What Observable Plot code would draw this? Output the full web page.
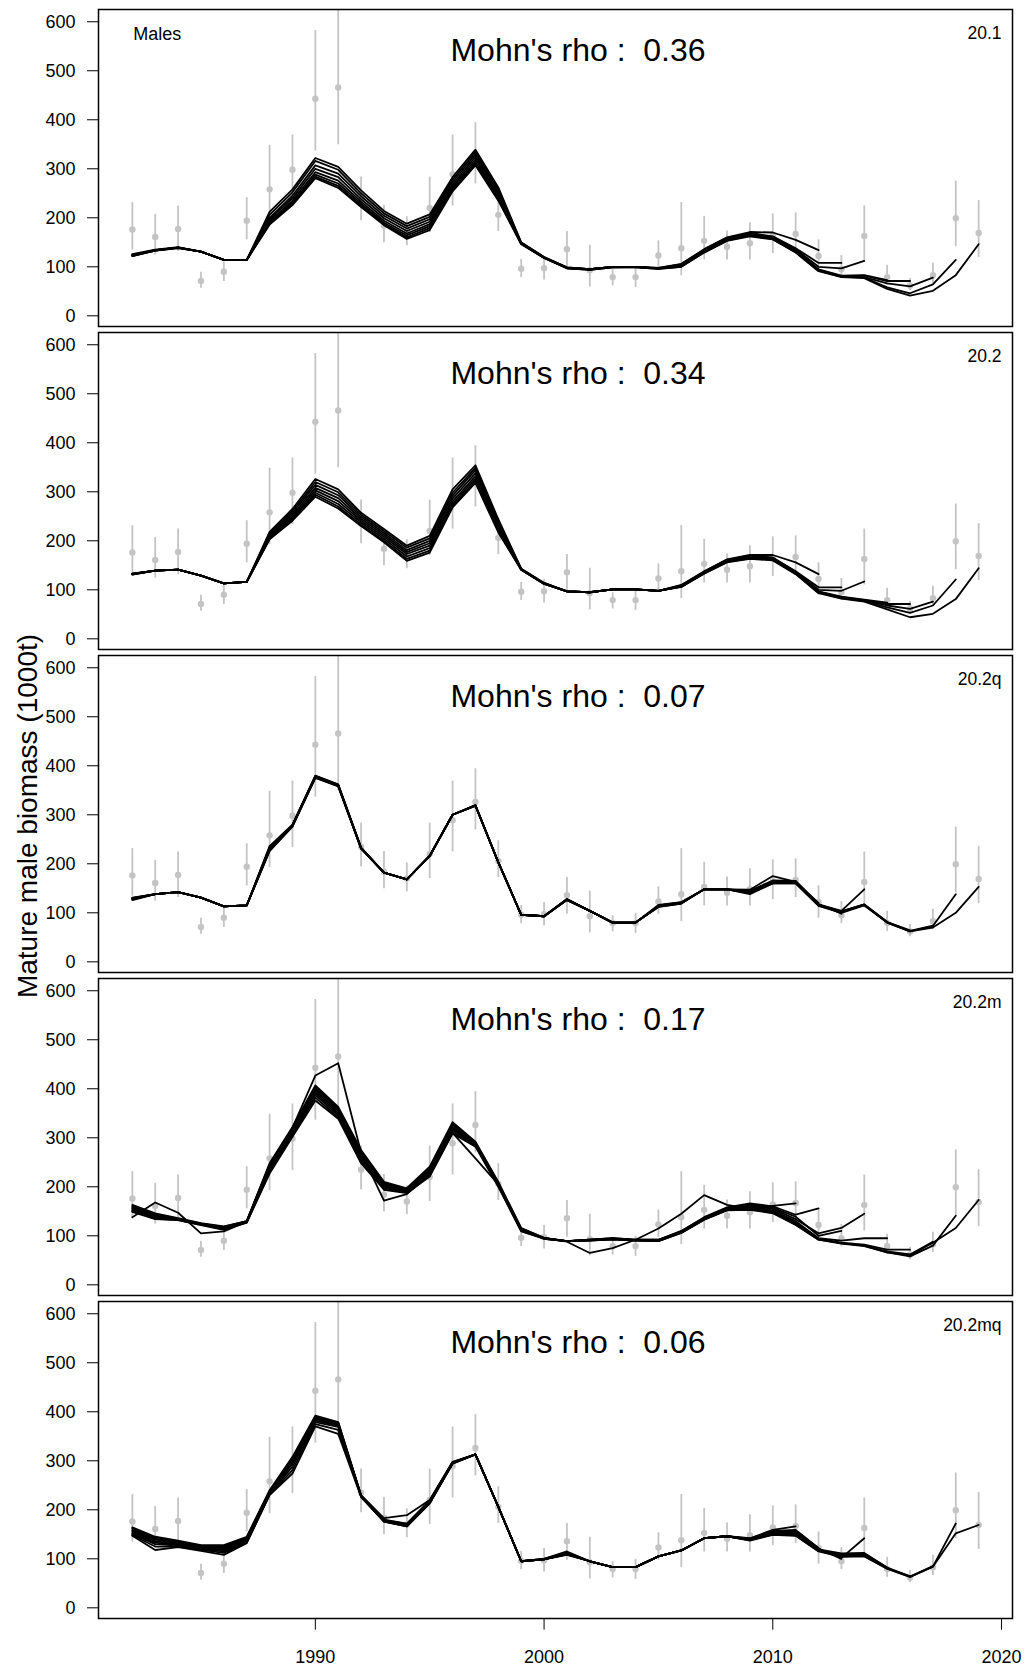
<!DOCTYPE html>
<html><head><meta charset="utf-8">
<script src="https://cdn.jsdelivr.net/npm/d3@7"></script>
<script src="https://cdn.jsdelivr.net/npm/@observablehq/plot@0.6"></script>
<style>
body{margin:0;background:#fff;}
#chart svg text{white-space:pre;}
</style></head><body><div id="chart"></div>
<script>
const years = [1982,1983,1984,1985,1986,1987,1988,1989,1990,1991,1992,1993,1994,1995,1996,1997,1998,1999,2000,2001,2002,2003,2004,2005,2006,2007,2008,2009,2010,2011,2012,2013,2014,2015,2016,2017,2018,2019];
const models = ["20.1","20.2","20.2q","20.2m","20.2mq"];
const rho = ["0.36","0.34","0.07","0.17","0.06"];
const yTicks = [0,100,200,300,400,500,600];
const xTicks = [1990,2000,2010,2020];

// survey observations (same in every panel)
const obsValue = [176,161,177,71,90,194,258,298,443,466,235,184,170,220,289,326,206,96,97,136,93,79,79,123,138,153,141,148,164,167,122,95,163,79,62,83,199,169];
const obsLow   = [134,124,131,56,70,155,192,233,336,349,194,149,143,170,224,269,172,78,73,97,59,61,58,97,82,114,114,114,127,131,89,78,110,62,51,66,141,119];
const obsHigh  = [231,207,224,89,110,241,348,369,582,680,283,225,202,283,369,394,247,115,121,172,144,94,99,153,231,203,173,190,208,210,155,123,224,103,76,107,275,235];

// retrospective peels, each from 1982 to its terminal year
const peels_20_1 = [
 [126,135,140,131,114,114,212,258,322,304,256,214,188,207,283,339,262,150,120,99,95,100,100,98,106,136,160,171,170,155,134],
 [125,134,139,131,114,114,206,252,316,298,250,209,183,202,278,334,258,149,120,99,95,100,100,98,105,135,159,169,162,138,108,108],
 [124,134,139,131,114,114,200,245,307,290,244,204,178,197,273,329,254,149,119,98,95,100,100,97,104,134,158,168,161,136,100,97,112],
 [124,134,139,131,114,114,196,240,300,283,238,199,173,192,268,324,250,148,119,98,95,100,100,97,103,133,157,167,160,134,95,82,83,73],
 [123,134,139,131,114,114,192,235,293,276,233,194,168,187,264,319,246,148,119,98,95,100,100,97,102,132,156,166,159,132,94,81,82,71,71],
 [123,133,139,131,114,114,190,232,288,270,229,190,164,183,260,314,242,147,118,97,95,99,100,97,101,131,155,165,158,131,93,80,79,66,60,78],
 [122,133,138,131,114,114,188,229,284,265,225,187,160,179,257,310,238,147,118,97,94,99,99,96,100,130,154,163,157,130,92,80,78,58,46,64,114],
 [122,133,138,131,114,114,186,226,281,261,222,185,157,175,254,307,235,146,118,97,94,99,99,96,100,129,153,162,156,129,91,79,77,55,41,51,83,146]
];
const peels_20_2 = [
 [133,139,141,129,113,116,218,265,326,305,257,224,190,210,305,354,244,143,114,97,95,101,101,98,110,138,162,171,171,156,132],
 [133,139,141,129,113,116,215,261,320,299,253,220,186,205,298,349,240,143,114,97,95,101,101,98,109,137,161,170,166,138,105,105],
 [133,139,141,129,113,116,212,257,314,293,249,216,181,200,292,344,236,142,113,97,95,101,101,98,108,136,160,168,165,137,100,98,117],
 [132,139,141,129,113,116,210,253,308,287,245,212,177,195,286,338,232,142,113,97,95,101,101,98,108,135,159,167,164,136,97,86,80,74],
 [132,139,141,129,113,116,208,249,303,281,241,208,173,190,280,332,228,142,113,97,95,101,101,98,107,135,158,166,163,135,96,85,79,71,71],
 [132,139,141,129,113,116,206,246,298,275,237,204,168,185,275,327,224,141,112,97,95,101,101,98,107,134,158,165,162,134,95,84,78,68,61,76],
 [131,139,141,129,113,116,204,243,294,270,233,200,163,180,271,322,220,141,112,97,95,101,101,98,106,134,157,164,161,133,94,83,77,64,53,68,121],
 [131,139,141,129,113,116,203,241,290,266,230,197,159,176,268,318,217,141,112,97,95,101,101,98,106,133,156,163,160,132,93,82,76,60,44,51,81,144]
];
const peels_20_2q = [
 [131,138,142,131,113,115,236,280,380,362,233,182,168,216,300,320,203,96,93,128,104,80,80,116,122,148,148,147,175,163,120],
 [130,138,142,131,113,115,234,279,379,361,233,182,168,216,300,320,203,96,93,128,104,80,80,115,121,148,148,145,166,165,118,98],
 [130,138,142,131,113,115,232,279,379,361,232,182,168,216,300,319,203,96,93,127,104,80,80,114,121,148,148,144,164,164,117,104,148],
 [129,138,142,131,113,115,231,278,378,360,232,182,168,216,300,319,203,96,93,127,104,80,80,114,120,148,148,143,163,163,116,103,117,82],
 [129,138,142,131,113,115,230,278,378,360,232,182,168,216,300,319,203,96,93,127,104,80,80,113,120,148,148,142,162,162,116,103,117,81,64],
 [128,138,142,131,113,115,229,277,377,359,232,182,168,216,300,319,203,96,93,127,104,80,80,113,120,148,148,141,161,161,115,102,116,81,63,74],
 [127,138,142,131,113,115,227,277,376,359,231,182,168,216,300,318,203,96,93,126,104,80,80,112,119,148,148,140,160,160,115,101,116,80,62,73,138],
 [126,138,142,131,113,115,226,276,375,358,231,182,168,216,300,318,203,96,93,126,104,80,80,112,119,148,148,138,160,160,114,100,115,80,62,70,100,153]
];
const peels_20_2m = [
 [138,168,147,105,109,129,245,320,427,452,270,172,185,225,310,258,205,112,95,88,65,75,92,115,145,183,163,155,161,166],
 [163,146,136,126,119,130,248,322,407,363,275,210,197,241,332,292,210,116,96,89,92,95,92,92,110,138,158,166,160,143,156],
 [160,144,135,125,118,130,245,319,403,360,271,208,196,238,329,290,208,115,96,89,92,95,92,92,109,137,157,164,157,139,100,110],
 [158,142,134,125,117,129,242,316,399,357,267,206,194,235,326,289,207,114,95,89,92,94,91,91,108,136,156,162,155,134,105,116,145],
 [156,140,134,124,116,129,239,313,395,354,263,204,193,232,322,287,206,113,95,89,91,94,91,91,108,135,155,160,152,130,95,90,95,95],
 [154,139,133,124,115,128,236,310,391,350,259,202,192,229,319,286,205,112,95,89,91,94,91,90,107,135,155,158,150,127,94,86,82,72,72],
 [152,137,133,123,114,128,233,307,387,346,255,200,190,227,316,285,204,111,94,89,91,93,90,90,107,134,154,156,149,125,93,85,80,68,62,88],
 [150,135,132,123,113,127,230,304,382,342,251,197,189,224,312,284,202,110,94,89,90,93,90,89,106,133,153,154,147,123,92,85,80,66,58,80,141],
 [149,134,132,122,112,127,227,302,376,339,248,194,187,221,309,282,200,109,94,89,90,93,90,89,106,133,152,153,146,122,92,84,79,66,60,86,116,173]
];
const peels_20_2mq = [
 [164,145,137,128,128,145,240,308,392,379,230,183,189,220,298,313,206,95,100,115,95,83,83,105,117,142,146,142,159,166],
 [162,143,135,127,126,143,238,305,390,378,229,180,172,219,297,313,206,95,100,113,95,83,83,105,117,142,146,141,157,159,122],
 [159,141,133,126,124,141,237,303,388,376,229,179,171,218,297,313,206,95,100,112,95,83,83,105,117,142,146,140,155,157,121,100],
 [157,139,131,125,122,139,235,301,386,375,228,178,170,217,296,313,206,95,99,111,95,83,83,105,117,142,146,140,154,155,120,102,142],
 [155,136,129,124,120,137,234,298,385,374,228,178,169,216,296,313,206,95,99,110,95,83,83,105,117,142,146,139,153,153,119,111,112,82],
 [152,133,128,122,118,136,233,294,382,372,228,177,168,215,295,313,206,95,99,110,95,83,83,105,117,142,146,139,152,151,118,108,110,82,64],
 [150,130,127,120,115,134,232,288,379,369,227,177,167,214,295,313,206,95,99,109,95,83,83,105,117,142,146,138,151,149,117,106,108,81,64,85],
 [148,125,125,118,112,133,231,281,375,363,227,176,166,213,294,313,206,95,99,109,95,83,83,105,117,142,146,138,150,148,116,105,106,80,63,84,172],
 [147,118,124,116,108,132,230,274,370,355,226,176,166,213,294,313,206,95,99,108,95,83,83,105,117,142,146,137,149,147,115,104,105,80,63,84,152,169]
];
const peelSets = [peels_20_1, peels_20_2, peels_20_2q, peels_20_2m, peels_20_2mq];

// tables for Plot
const obsRows = [];
models.forEach(m => years.forEach((yr, k) => obsRows.push({model: m, year: yr, value: obsValue[k], low: obsLow[k], high: obsHigh[k]})));
const lineRows = [];
peelSets.forEach((set, i) => set.forEach((vals, j) => vals.forEach((v, k) => lineRows.push({model: models[i], peel: models[i] + "-" + j, year: years[k], value: v}))));

const chart = Plot.plot({
  width: 1029, height: 1667,
  marginLeft: 98, marginRight: 17, marginTop: 7, marginBottom: 47,
  style: {fontFamily: '"Liberation Sans", Arial, sans-serif', fontSize: "18px", background: "#fff", color: "#000"},
  x: {domain: [1980.52, 2020.48]},
  y: {domain: [-21.8, 625]},
  fy: {domain: models, paddingInner: 0.0178, paddingOuter: 0, axis: null, label: null},
  marks: [
    Plot.ruleX(obsRows, {x: "year", y1: "low", y2: "high", fy: "model", stroke: "#c4c4c4", strokeWidth: 1.8, clip: true}),
    Plot.dot(obsRows, {x: "year", y: "value", fy: "model", r: 3.2, fill: "#c4c4c4", stroke: null}),
    Plot.line(lineRows, {x: "year", y: "value", z: "peel", fy: "model", stroke: "#000", strokeWidth: 1.8, strokeLinejoin: "round", strokeLinecap: "round"}),
    Plot.frame({stroke: "#000", strokeWidth: 1.5}),
    Plot.axisY({ticks: yTicks, tickSize: 11, tickPadding: 12, label: null, fontSize: 18}),
    Plot.axisX({ticks: xTicks, tickFormat: d => String(d), tickSize: 11.7, tickPadding: 20, label: null, fontSize: 18}),
    Plot.text(models, {fy: d => d, text: d => d, frameAnchor: "top-right", textAnchor: "end", lineAnchor: "top", dx: -11, dy: 17.5, fontSize: 17.5}),
    Plot.text(models, {fy: d => d, text: (d, i) => "Mohn's rho :\u00a0 " + rho[i], frameAnchor: "top", lineAnchor: "top", dx: 22.5, dy: 28.3, fontSize: 32}),
    Plot.text(["Males"], {fy: d => models[0], text: d => d, frameAnchor: "top-left", textAnchor: "start", lineAnchor: "top", dx: 34.7, dy: 18, fontSize: 18})
  ]
});

d3.select(chart).append("text")
  .attr("transform", "translate(36.5,816) rotate(-90)")
  .attr("text-anchor", "middle")
  .attr("font-size", 28)
  .attr("fill", "#000")
  .text("Mature male biomass (1000t)");

document.getElementById("chart").appendChild(chart);
</script>
</body></html>
